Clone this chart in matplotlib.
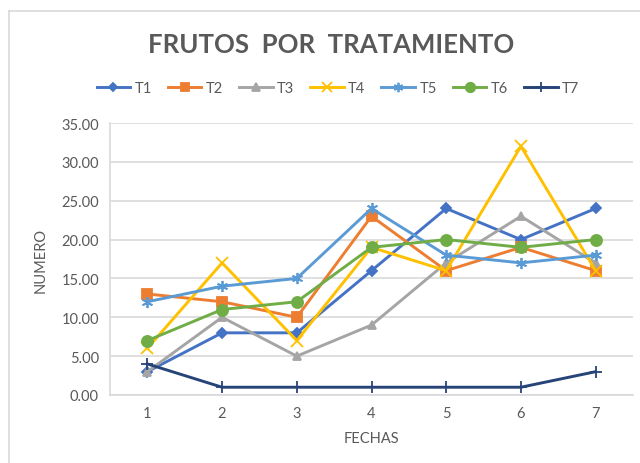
import matplotlib
matplotlib.use("Agg")
import matplotlib.pyplot as plt
from matplotlib.lines import Line2D

fechas = [1, 2, 3, 4, 5, 6, 7]
t1 = [3, 8, 8, 16, 24, 20, 24]
t2 = [13, 12, 10, 23, 16, 19, 16]
t3 = [3, 10, 5, 9, 17, 23, 17]
t4 = [6, 17, 7, 19, 16, 32, 16]
t5 = [12, 14, 15, 24, 18, 17, 18]
t6 = [7, 11, 12, 19, 20, 19, 20]
t7 = [4, 1, 1, 1, 1, 1, 3]
nombres = ["T1", "T2", "T3", "T4", "T5", "T6", "T7"]

plt.rcParams['font.family'] = ['Lato', 'DejaVu Sans']
gris = '#595959'

fig = plt.figure(figsize=(6.4, 4.64), dpi=100)
ax = fig.add_axes([110 / 640, 1 - 396 / 464, 523 / 640, 272 / 464])

# borde del grafico
fig.add_artist(Line2D([9 / 640, 9 / 640], [0, 1 - 12 / 464], transform=fig.transFigure, color='#d9d9d9', lw=1.2))
fig.add_artist(Line2D([9 / 640, 1], [1 - 12 / 464, 1 - 12 / 464], transform=fig.transFigure, color='#d9d9d9', lw=1.2))

series = [t1, t2, t3, t4, t5, t6, t7]
colores = ['#4472C4', '#ED7D31', '#A5A5A5', '#FFC000', '#5B9BD5', '#70AD47', '#264478']
marcas = ['D', 's', '^', 'x', (6, 2, 0), 'o', '+']
tams = [5, 7, 6, 8, 8, 8, 9]
for s, c, m, t, n in zip(series, colores, marcas, tams, nombres):
	ax.plot(fechas, s, color=c, lw=2.1, marker=m, markersize=t, markerfacecolor=c,
			markeredgecolor=c, markeredgewidth=1.3, label=n, clip_on=False, zorder=3)

ax.set_xlim(0.5, 7.5)
ax.set_ylim(0, 35)
ax.set_yticks([0, 5, 10, 15, 20, 25, 30, 35])
ax.set_yticklabels(['%.2f' % v for v in ax.get_yticks()])
ax.set_xticks(fechas)
ax.grid(axis='y', color='#d9d9d9', lw=1.2)
ax.set_axisbelow(True)
for lado in ['top', 'right']:
	ax.spines[lado].set_visible(False)
for lado in ['left', 'bottom']:
	ax.spines[lado].set_color('#d9d9d9')
	ax.spines[lado].set_linewidth(1.2)
ax.tick_params(length=0, colors=gris, labelsize=10.5, pad=8)
ax.set_xlabel('FECHAS', color=gris, fontsize=10.5, labelpad=8)
ax.set_ylabel('NUMERO', color=gris, fontsize=10.5, labelpad=10)

fig.text(0.518, 1 - 45 / 464, 'FRUTOS  POR  TRATAMIENTO', ha='center', va='center',
		 fontsize=18.5, fontweight='bold', color=gris)
fig.legend(loc='center', bbox_to_anchor=(0.528, 1 - 89 / 464), ncol=7, frameon=False,
		   handlelength=2.3, handletextpad=0.3, columnspacing=1.1, labelcolor=gris, fontsize=10.5,
		   markerscale=0.85)

fig.savefig('out.png', dpi=100)
